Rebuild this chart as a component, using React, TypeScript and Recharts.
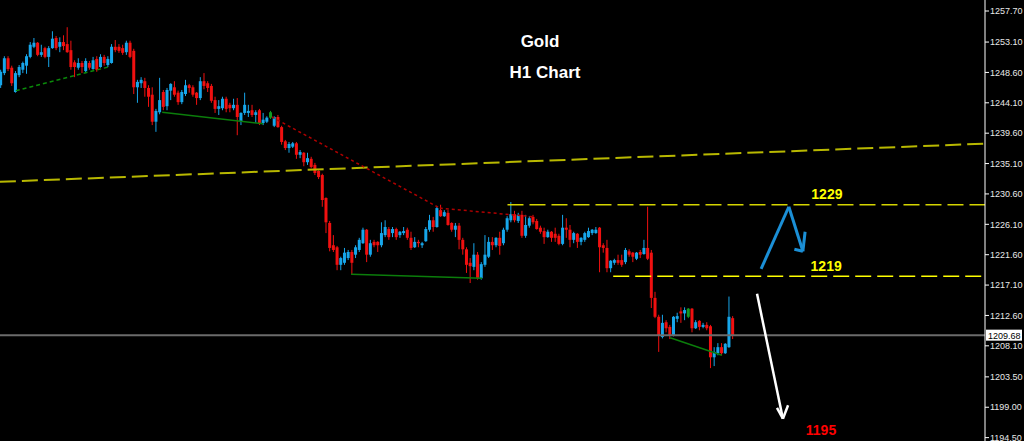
import { ComposedChart, Bar, XAxis, YAxis, ReferenceLine, ReferenceDot } from 'recharts'

// Gold H1 candles (oldest first)
const opens = [
  1246.7, 1248.5, 1250.7, 1249.3, 1245.7, 1248.2, 1249.0, 1249.6, 1250.9, 1252.4,
  1253.0, 1251.2, 1252.2, 1250.9, 1252.2, 1253.7, 1252.4, 1253.1, 1252.8, 1251.9,
  1250.1, 1249.3, 1250.0, 1248.8, 1250.0, 1249.1, 1250.6, 1249.4, 1250.9, 1249.7,
  1250.0, 1252.4, 1252.4, 1252.2, 1251.6, 1253.0, 1251.8, 1246.4, 1247.0, 1247.3,
  1246.3, 1245.3, 1241.3, 1242.7, 1245.7, 1243.6, 1245.9, 1246.4, 1245.6, 1244.2,
  1245.4, 1246.7, 1246.4, 1245.6, 1244.8, 1247.3, 1247.0, 1246.6, 1244.5, 1243.2,
  1243.3, 1244.7, 1243.8, 1243.3, 1243.8, 1241.4, 1242.6, 1242.6, 1243.0, 1242.3,
  1243.0, 1241.1, 1241.3, 1241.9, 1240.7, 1242.0, 1240.5, 1238.4, 1237.4, 1237.6,
  1238.1, 1236.4, 1236.7, 1235.3, 1235.8, 1234.9, 1234.0, 1233.4, 1230.0, 1226.3,
  1223.0, 1222.7, 1220.1, 1220.4, 1221.1, 1222.0, 1221.6, 1222.3, 1223.3, 1225.3,
  1221.6, 1223.5, 1223.5, 1223.0, 1224.5, 1225.4, 1224.8, 1225.4, 1224.5, 1224.8,
  1225.3, 1224.1, 1222.7, 1223.5, 1223.0, 1223.6, 1225.3, 1226.7, 1225.7, 1228.2,
  1227.3, 1227.8, 1226.3, 1225.3, 1225.9, 1223.8, 1222.4, 1220.4, 1219.8, 1221.6,
  1218.1, 1220.1, 1221.3, 1223.5, 1223.0, 1224.1, 1223.3, 1225.3, 1226.7, 1227.6,
  1226.6, 1227.5, 1224.4, 1225.9, 1227.2, 1226.6, 1225.6, 1225.1, 1224.2, 1225.0,
  1224.7, 1224.4, 1223.2, 1225.6, 1225.3, 1223.8, 1224.7, 1223.5, 1223.8, 1224.2,
  1224.8, 1224.8, 1225.6, 1223.0, 1222.6, 1219.6, 1220.4, 1220.8, 1220.8, 1220.5,
  1222.1, 1221.9, 1221.0, 1222.0, 1221.7, 1222.6, 1221.9, 1215.2, 1212.4, 1209.4,
  1211.6, 1210.9, 1209.7, 1212.1, 1213.2, 1212.9, 1212.4, 1213.6, 1210.7, 1211.8,
  1210.9, 1211.2, 1211.0, 1206.4, 1207.0, 1207.9, 1207.0, 1207.9, 1212.2,
]
const highs = [
  1249.0, 1251.0, 1251.0, 1249.6, 1248.8, 1249.7, 1250.2, 1251.3, 1253.1, 1253.7,
  1253.1, 1252.7, 1252.4, 1252.5, 1254.7, 1254.0, 1253.8, 1254.1, 1255.3, 1253.3,
  1250.4, 1250.7, 1250.3, 1250.7, 1250.3, 1250.9, 1251.0, 1251.3, 1251.2, 1251.0,
  1252.8, 1253.4, 1252.8, 1252.7, 1253.3, 1253.3, 1252.1, 1247.5, 1247.9, 1247.8,
  1246.7, 1246.4, 1243.2, 1247.8, 1246.0, 1246.3, 1247.0, 1247.3, 1245.9, 1246.0,
  1247.5, 1246.9, 1246.7, 1245.7, 1247.9, 1248.5, 1247.3, 1246.9, 1245.0, 1244.5,
  1245.0, 1245.0, 1244.1, 1244.7, 1244.8, 1242.7, 1245.6, 1243.8, 1243.8, 1243.0,
  1243.2, 1242.6, 1242.1, 1242.9, 1242.1, 1242.3, 1240.7, 1238.6, 1238.3, 1238.3,
  1238.3, 1237.1, 1236.8, 1236.7, 1236.1, 1235.2, 1234.1, 1233.6, 1230.1, 1226.6,
  1224.5, 1222.9, 1221.3, 1222.6, 1222.3, 1222.3, 1223.0, 1224.1, 1225.6, 1225.4,
  1223.8, 1223.8, 1223.6, 1226.4, 1226.7, 1225.7, 1225.7, 1225.6, 1225.1, 1225.7,
  1225.6, 1225.0, 1224.2, 1223.8, 1223.5, 1225.7, 1227.5, 1227.2, 1228.7, 1229.0,
  1228.2, 1228.2, 1226.4, 1226.3, 1226.3, 1224.1, 1222.7, 1221.1, 1223.3, 1222.0,
  1220.5, 1224.5, 1224.2, 1224.2, 1224.2, 1225.0, 1225.6, 1227.3, 1229.4, 1228.1,
  1227.8, 1228.1, 1227.5, 1227.3, 1227.5, 1226.9, 1225.9, 1225.6, 1225.3, 1225.1,
  1225.6, 1224.7, 1227.5, 1227.0, 1226.0, 1225.0, 1224.8, 1224.2, 1225.0, 1225.6,
  1225.4, 1225.7, 1225.7, 1223.3, 1223.8, 1220.8, 1221.0, 1221.6, 1221.6, 1222.6,
  1222.4, 1222.0, 1222.0, 1222.3, 1223.8, 1228.7, 1222.3, 1216.1, 1212.7, 1212.7,
  1211.9, 1211.2, 1212.5, 1213.0, 1213.8, 1213.8, 1213.7, 1213.7, 1211.9, 1211.9,
  1211.5, 1211.6, 1211.2, 1207.9, 1208.5, 1208.5, 1208.5, 1215.4, 1212.5,
]
const lows = [
  1246.3, 1248.2, 1248.8, 1246.6, 1245.6, 1247.9, 1248.5, 1248.4, 1250.7, 1252.2,
  1251.0, 1250.9, 1250.7, 1249.4, 1252.1, 1251.9, 1251.6, 1251.9, 1251.5, 1249.0,
  1247.9, 1249.0, 1248.5, 1248.5, 1249.0, 1249.0, 1248.7, 1249.3, 1249.6, 1249.4,
  1249.9, 1251.6, 1251.5, 1251.2, 1251.2, 1250.7, 1245.4, 1244.1, 1246.3, 1245.0,
  1243.5, 1240.8, 1239.8, 1242.4, 1243.0, 1243.0, 1244.5, 1245.0, 1243.8, 1243.9,
  1245.1, 1245.6, 1245.0, 1243.8, 1244.5, 1246.1, 1245.7, 1244.1, 1242.6, 1242.3,
  1243.0, 1242.7, 1242.7, 1243.0, 1239.3, 1240.8, 1242.3, 1242.0, 1242.0, 1241.1,
  1240.8, 1240.8, 1241.1, 1241.7, 1240.5, 1240.4, 1237.9, 1237.1, 1236.7, 1237.4,
  1235.8, 1235.9, 1234.7, 1234.9, 1234.4, 1233.4, 1232.8, 1228.7, 1224.8, 1222.1,
  1222.0, 1219.3, 1219.3, 1220.1, 1220.8, 1218.6, 1221.1, 1222.0, 1223.2, 1220.5,
  1221.3, 1222.7, 1222.0, 1222.7, 1224.2, 1223.8, 1224.2, 1223.8, 1224.1, 1224.5,
  1223.8, 1222.3, 1222.6, 1222.7, 1222.6, 1223.5, 1225.0, 1225.0, 1225.6, 1227.2,
  1227.2, 1225.9, 1225.0, 1224.2, 1222.4, 1221.6, 1218.9, 1217.4, 1219.3, 1217.9,
  1217.9, 1219.8, 1221.1, 1222.3, 1222.7, 1221.6, 1223.0, 1225.0, 1226.4, 1226.4,
  1226.3, 1224.1, 1224.1, 1225.6, 1226.1, 1225.3, 1224.7, 1223.2, 1224.1, 1223.5,
  1223.5, 1223.0, 1223.0, 1224.1, 1222.7, 1223.3, 1222.6, 1223.0, 1223.5, 1224.1,
  1224.5, 1224.7, 1219.0, 1221.9, 1219.0, 1219.0, 1220.1, 1220.1, 1219.8, 1220.2,
  1221.3, 1220.5, 1220.8, 1221.1, 1221.6, 1220.8, 1213.7, 1212.2, 1207.2, 1209.2,
  1210.1, 1209.1, 1209.5, 1211.6, 1211.5, 1211.9, 1212.2, 1210.1, 1210.6, 1210.4,
  1210.7, 1210.4, 1204.8, 1205.1, 1206.7, 1206.7, 1206.9, 1207.8, 1209.1,
]
const closes = [
  1248.7, 1250.7, 1249.1, 1247.0, 1248.5, 1249.4, 1250.0, 1251.0, 1252.7, 1253.0,
  1251.2, 1251.6, 1250.9, 1252.2, 1253.6, 1252.2, 1253.1, 1252.5, 1251.6, 1249.4,
  1249.4, 1250.0, 1249.4, 1250.3, 1249.3, 1250.4, 1249.0, 1250.9, 1250.0, 1250.6,
  1252.4, 1251.9, 1251.8, 1251.5, 1253.0, 1250.9, 1246.4, 1247.2, 1247.5, 1246.3,
  1245.0, 1241.3, 1242.9, 1244.5, 1243.5, 1246.0, 1246.9, 1245.3, 1244.2, 1245.7,
  1246.7, 1246.3, 1245.3, 1244.8, 1247.3, 1246.6, 1246.3, 1244.4, 1243.2, 1243.6,
  1244.7, 1243.2, 1243.3, 1243.8, 1242.0, 1242.6, 1243.8, 1242.9, 1242.3, 1242.7,
  1241.1, 1241.6, 1241.9, 1242.7, 1242.0, 1240.5, 1238.3, 1237.4, 1238.0, 1238.1,
  1236.4, 1236.8, 1235.3, 1235.9, 1234.6, 1233.7, 1233.1, 1229.7, 1226.4, 1222.6,
  1222.3, 1220.1, 1221.1, 1221.9, 1222.0, 1220.4, 1222.7, 1223.8, 1225.3, 1221.6,
  1223.3, 1223.0, 1223.0, 1224.8, 1225.7, 1224.2, 1225.4, 1224.2, 1225.0, 1225.1,
  1224.1, 1222.6, 1223.5, 1223.3, 1223.3, 1225.4, 1226.7, 1225.7, 1228.5, 1227.3,
  1227.9, 1226.0, 1225.3, 1225.9, 1223.8, 1222.4, 1220.1, 1219.9, 1221.6, 1218.1,
  1220.2, 1221.6, 1223.5, 1223.0, 1224.1, 1222.9, 1225.3, 1227.0, 1227.6, 1226.7,
  1227.5, 1224.4, 1226.0, 1227.0, 1226.4, 1225.4, 1225.0, 1224.2, 1225.0, 1224.1,
  1224.1, 1223.2, 1225.6, 1225.3, 1223.8, 1224.8, 1223.5, 1224.1, 1224.8, 1225.1,
  1225.3, 1225.3, 1222.7, 1222.6, 1219.6, 1220.7, 1220.8, 1220.4, 1220.1, 1222.3,
  1221.6, 1221.3, 1221.9, 1221.6, 1222.6, 1221.0, 1215.2, 1212.4, 1209.7, 1211.5,
  1210.7, 1209.7, 1212.4, 1212.5, 1212.9, 1213.4, 1213.6, 1210.7, 1211.6, 1210.9,
  1211.2, 1210.7, 1206.4, 1207.2, 1207.9, 1207.0, 1208.4, 1212.4, 1209.68,
]
// bars MT4 painted green
const greenBars = [73, 186]

const priceTicks = [
  1257.7, 1253.1, 1248.6, 1244.1, 1239.6, 1235.1, 1230.6, 1226.1,
  1221.6, 1217.1, 1212.6, 1208.1, 1203.5, 1199.0, 1194.5,
]
const priceDomain = [1194.0, 1259.33]
const lastPrice = 1209.68

// drawn objects, x = bar index, y = price
const channelLine = [{ x: -0.3, y: 1232.4 }, { x: 266.2, y: 1238.05 }]
const resistance = { from: 137, price: 1229.0 }
const support = { from: 165.6, price: 1218.4 }
const redTrend = [
  { x: 73.3, y: 1242.0 },
  { x: 118.7, y: 1228.5 },
  { x: 144.4, y: 1227.2 },
]
const greenDashed = [{ x: 4, y: 1245.9 }, { x: 29, y: 1249.4 }]
const greenLines = [
  [{ x: 43.6, y: 1242.7 }, { x: 70.9, y: 1241.0 }],
  [{ x: 94.7, y: 1218.7 }, { x: 130.1, y: 1218.1 }],
  [{ x: 181, y: 1209.3 }, { x: 195, y: 1206.7 }],
]
const blueArrow = [
  { x: 205.6, y: 1219.5 },
  { x: 213.1, y: 1228.7 },
  { x: 216.9, y: 1222.1 },
]
const blueWings = [{ x: 214.6, y: 1222.4 }, { x: 217.5, y: 1225.0 }]
const whiteArrow = [{ x: 204.5, y: 1215.8 }, { x: 211.5, y: 1197.3 }]
const whiteWings = [{ x: 209.9, y: 1198.9 }, { x: 212.9, y: 1199.3 }]
const levelLabels = [
  { x: 223.4, y: 1230.6, text: '1229', color: '#ffff00' },
  { x: 223.2, y: 1219.9, text: '1219', color: '#ffff00' },
  { x: 221.8, y: 1195.6, text: '1195', color: '#ff0000' },
]

const candles = opens.map((o, i) => ({
  i,
  open: o,
  high: highs[i],
  low: lows[i],
  close: closes[i],
  range: [lows[i], highs[i]],
}))

// bar i sits at pixel 1 + i * step, plot is 985px wide
const step = 732 / (opens.length - 1)
const xMin = -1 / step
const xMax = xMin + 985 / step

const BULL = '#17a6ea'
const BEAR = '#f01010'

function Candle(props: any) {
  const { x, y, width, height, payload } = props
  if (!payload) return null
  const { open, close, high, low, i } = payload
  const top = Math.min(y, y + height)
  const bottom = Math.max(y, y + height)
  const k = (bottom - top) / (high - low || 1)
  const oy = top + (high - open) * k
  const cy = top + (high - close) * k
  const cx = x + width / 2
  const color = greenBars.includes(i) ? '#119a22' : close >= open ? BULL : BEAR
  return (
    <g>
      <line x1={cx} x2={cx} y1={top} y2={bottom} stroke={color} strokeWidth={1} />
      <rect
        x={cx - 1.5}
        y={Math.min(oy, cy)}
        width={3}
        height={Math.max(1, Math.abs(oy - cy))}
        fill={color}
      />
    </g>
  )
}

function PriceTag(props: any) {
  const vb = props.viewBox
  if (!vb) return null
  const x = vb.x + vb.width + 1
  return (
    <g>
      <rect x={x} y={vb.y - 5.5} width={36} height={11} fill="#fff" />
      <text x={x + 2} y={vb.y + 3.5} fontSize={9} fill="#000" fontFamily="Liberation Sans, Arial, sans-serif">
        {lastPrice.toFixed(2)}
      </text>
    </g>
  )
}

function segments(points: { x: number; y: number }[], stroke: string, width: number, dash?: string) {
  return points.slice(1).map((p, k) => (
    <ReferenceLine
      key={stroke + p.x + k}
      segment={[points[k], p]}
      stroke={stroke}
      strokeWidth={width}
      strokeDasharray={dash}
      ifOverflow="visible"
    />
  ))
}

export default function App() {
  return (
    <div
      style={{
        position: 'absolute',
        left: 0,
        top: 0,
        width: 1024,
        height: 441,
        background: '#000',
        overflow: 'hidden',
      }}
    >
      <ComposedChart width={1024} height={441} data={candles} margin={{ top: 0, right: 0, bottom: 0, left: 0 }}>
        <XAxis type="number" dataKey="i" domain={[xMin, xMax]} allowDataOverflow hide />
        <YAxis
          orientation="right"
          width={39}
          domain={priceDomain}
          allowDataOverflow
          ticks={priceTicks}
          interval={0}
          stroke="#fff"
          tickSize={4}
          tickMargin={1}
          tick={{ fill: '#e8e8e8', fontSize: 9, fontFamily: 'Liberation Sans, Arial, sans-serif' }}
          tickFormatter={(v: number) => v.toFixed(2)}
        />

        {segments(channelLine, '#b8b800', 2, '16 6')}
        {segments([{ x: resistance.from, y: resistance.price }, { x: xMax, y: resistance.price }], '#d4d400', 1.5, '16 6')}
        {segments([{ x: support.from, y: support.price }, { x: xMax, y: support.price }], '#ffff00', 1.5, '16 6')}
        {segments(redTrend, '#b00000', 1.5, '3 3')}
        {segments(greenDashed, '#0a8a0a', 1.5, '4 3')}
        {greenLines.map((l) => segments(l, '#0b7d0b', 1.5))}

        <ReferenceLine
          y={lastPrice}
          stroke="#6b6b6b"
          strokeWidth={2}
          ifOverflow="visible"
          label={(p: any) => <PriceTag {...p} />}
        />

        <Bar dataKey="range" barSize={3} shape={(p: any) => <Candle {...p} />} isAnimationActive={false} />

        {segments(blueArrow, '#1b8fd6', 3)}
        {segments([blueArrow[2], blueWings[0]], '#1b8fd6', 3)}
        {segments([blueArrow[2], blueWings[1]], '#1b8fd6', 3)}
        {segments(whiteArrow, '#ffffff', 2.5)}
        {segments([whiteArrow[1], whiteWings[0]], '#ffffff', 2.5)}
        {segments([whiteArrow[1], whiteWings[1]], '#ffffff', 2.5)}

        {levelLabels.map((l) => (
          <ReferenceDot
            key={l.text}
            x={l.x}
            y={l.y}
            r={0}
            stroke="none"
            ifOverflow="visible"
            label={{
              value: l.text,
              position: 'center',
              fill: l.color,
              fontSize: 14,
              fontWeight: 700,
              fontFamily: 'Liberation Sans, Arial, sans-serif',
            }}
          />
        ))}
      </ComposedChart>
      <div
        style={{
          position: 'absolute',
          left: 440,
          top: 32,
          width: 200,
          textAlign: 'center',
          color: '#fff',
          font: 'bold 17px "Liberation Sans", Arial, sans-serif',
        }}
      >
        Gold
      </div>
      <div
        style={{
          position: 'absolute',
          left: 445,
          top: 63,
          width: 200,
          textAlign: 'center',
          color: '#fff',
          font: 'bold 17px "Liberation Sans", Arial, sans-serif',
        }}
      >
        H1 Chart
      </div>
    </div>
  )
}
